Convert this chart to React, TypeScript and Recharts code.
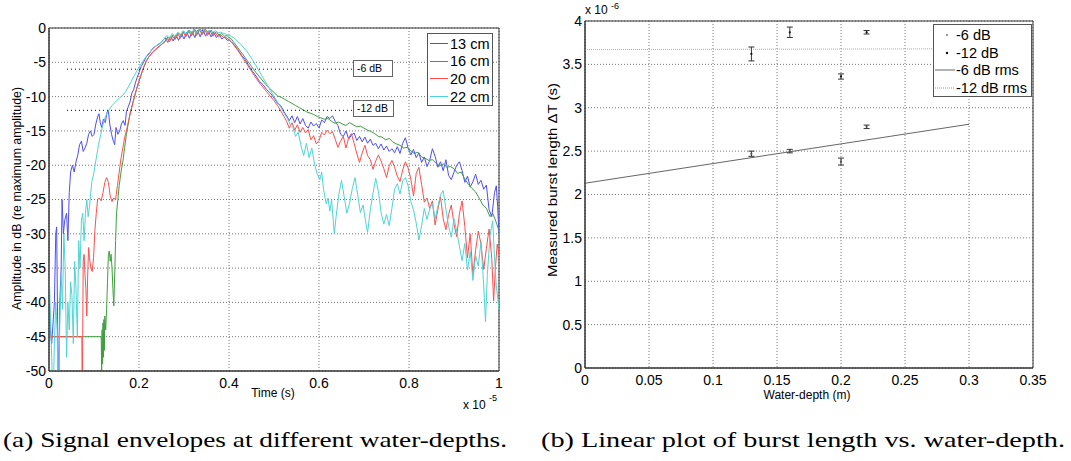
import React from 'react'
import {
  CartesianGrid,
  ComposedChart,
  ErrorBar,
  Legend,
  Line,
  LineChart,
  ReferenceArea,
  ReferenceLine,
  Scatter,
  XAxis,
  YAxis,
} from 'recharts'

// panel (a): time in units of 1e-5 s, amplitude in dB
const timeTicks = [0, 0.2, 0.4, 0.6, 0.8, 1]
const ampTicks = [0, -5, -10, -15, -20, -25, -30, -35, -40, -45, -50]

const env13cm: [number, number][] = [
  [0, -38], [0.003, -44], [0.006, -46], [0.009, -43], [0.012, -40], [0.015, -30], [0.017, -29], [0.019, -42],
  [0.021, -55], [0.024, -40], [0.027, -35], [0.029, -25], [0.032, -30], [0.035, -28], [0.039, -27], [0.042, -31],
  [0.045, -24], [0.048, -21], [0.052, -20], [0.056, -21], [0.06, -19.5], [0.064, -18.5], [0.068, -17], [0.072, -16.5],
  [0.076, -18], [0.08, -17.5], [0.084, -16.8], [0.088, -15.5], [0.092, -15], [0.096, -15.8], [0.1, -15.5], [0.104, -14],
  [0.108, -13], [0.111, -12.5], [0.114, -13.8], [0.117, -14.5], [0.121, -13.3], [0.125, -13.8], [0.129, -12.3], [0.132, -12],
  [0.135, -14], [0.139, -15.5], [0.143, -16.5], [0.146, -17], [0.149, -14.5], [0.153, -15.5], [0.157, -15], [0.161, -14],
  [0.165, -13.5], [0.169, -14.2], [0.172, -12.2], [0.176, -11.5], [0.18, -10.8], [0.184, -9.5], [0.188, -9], [0.192, -8],
  [0.196, -7.2], [0.2, -6.5], [0.205, -5.6], [0.21, -5], [0.216, -4.2], [0.222, -3.8], [0.23, -3], [0.238, -2.6],
  [0.246, -2.3], [0.252, -1.9], [0.258, -1.4], [0.264, -2.1], [0.27, -1.2], [0.276, -1.9], [0.282, -1.0], [0.288, -1.8],
  [0.294, -0.8], [0.3, -1.6], [0.306, -0.6], [0.312, -1.5], [0.318, -0.5], [0.324, -1.4], [0.33, -0.3], [0.336, -1.3],
  [0.342, -0.2], [0.348, -1.2], [0.354, -0.4], [0.36, -1.3], [0.366, -0.6], [0.372, -1.4], [0.378, -0.9], [0.384, -1.6],
  [0.39, -1.3], [0.396, -1.8], [0.4, -1.7], [0.405, -2], [0.412, -2.5], [0.42, -3.2], [0.428, -4], [0.436, -4.6],
  [0.444, -5.5], [0.452, -6.3], [0.46, -7], [0.468, -7.8], [0.476, -8.3], [0.484, -9], [0.492, -9.5], [0.5, -10.2],
  [0.508, -11], [0.515, -11.3], [0.522, -12.2], [0.528, -12.8], [0.534, -13.5], [0.54, -12.8], [0.546, -13.8], [0.552, -12.9],
  [0.558, -14], [0.564, -13.2], [0.57, -14.2], [0.576, -14.6], [0.582, -13.7], [0.588, -14.3], [0.594, -13.9], [0.6, -14.6],
  [0.606, -13.4], [0.612, -13.8], [0.618, -12.9], [0.624, -13.2], [0.63, -12.8], [0.636, -13.6], [0.642, -14.2], [0.648, -15.5],
  [0.654, -15.8], [0.66, -15], [0.666, -16.2], [0.672, -15.6], [0.678, -15.3], [0.684, -16.4], [0.69, -15.8], [0.696, -16.6],
  [0.702, -15.9], [0.708, -16.8], [0.714, -16.2], [0.72, -17.1], [0.726, -16.8], [0.732, -17.6], [0.738, -16.9], [0.744, -17.8],
  [0.75, -17.2], [0.756, -18], [0.762, -17.6], [0.768, -18.2], [0.774, -17.3], [0.78, -18.3], [0.786, -16.8], [0.792, -16],
  [0.798, -17.5], [0.804, -18.5], [0.81, -17.7], [0.816, -18.9], [0.822, -18.2], [0.828, -19.6], [0.834, -18.8], [0.84, -20.2],
  [0.846, -19.3], [0.852, -17.6], [0.858, -18.7], [0.864, -20.3], [0.87, -19.5], [0.876, -20.8], [0.882, -19.2], [0.888, -21.5],
  [0.894, -22.1], [0.9, -21], [0.906, -20], [0.912, -19.5], [0.918, -20.8], [0.924, -22.5], [0.93, -21.6], [0.936, -23.2],
  [0.942, -22.4], [0.948, -21.3], [0.954, -22.8], [0.96, -22.2], [0.966, -23.5], [0.972, -22.9], [0.978, -26.5], [0.984, -27.5],
  [0.99, -24], [0.994, -23], [0.997, -26], [1, -30],
]

const env16cm: [number, number][] = [
  [0, -45], [0.116, -45], [0.117, -50], [0.118, -44], [0.119, -49], [0.12, -43], [0.121, -48], [0.122, -42.5],
  [0.123, -47], [0.124, -42], [0.126, -44], [0.128, -41], [0.13, -37], [0.132, -33], [0.134, -32.5], [0.136, -34],
  [0.138, -33], [0.14, -35], [0.142, -38], [0.144, -40.5], [0.146, -36], [0.148, -31], [0.15, -27], [0.153, -25],
  [0.156, -23], [0.16, -21], [0.164, -19.5], [0.168, -17.5], [0.172, -15.5], [0.176, -14], [0.18, -12.5], [0.185, -11.2],
  [0.19, -10], [0.195, -8.8], [0.2, -7.8], [0.205, -6.8], [0.21, -5.8], [0.216, -4.8], [0.222, -4.2], [0.23, -3.6],
  [0.24, -3], [0.25, -2.4], [0.258, -2], [0.264, -1.3], [0.27, -1.8], [0.276, -1.0], [0.282, -1.5], [0.288, -0.7],
  [0.294, -1.3], [0.3, -0.5], [0.306, -1.1], [0.312, -0.3], [0.318, -1.0], [0.324, -0.2], [0.33, -0.9], [0.336, -0.1],
  [0.342, -0.8], [0.348, -0.2], [0.354, -0.9], [0.36, -0.3], [0.366, -1.0], [0.372, -0.5], [0.378, -1.1], [0.384, -0.8],
  [0.39, -1.2], [0.396, -1.1], [0.4, -1.4], [0.405, -1.6], [0.412, -2.2], [0.42, -2.9], [0.43, -3.8], [0.44, -4.7],
  [0.45, -5.6], [0.46, -6.5], [0.47, -7.3], [0.48, -8.1], [0.49, -8.8], [0.5, -9.4], [0.508, -9.9], [0.516, -10.1],
  [0.524, -10.4], [0.532, -10.7], [0.54, -11], [0.548, -11.3], [0.556, -11.6], [0.564, -11.9], [0.572, -12.2], [0.58, -12.4],
  [0.588, -12.6], [0.596, -12.9], [0.604, -13.1], [0.612, -13.3], [0.62, -13.2], [0.628, -13.6], [0.636, -13.9], [0.644, -13.7],
  [0.652, -14], [0.66, -14.2], [0.668, -13.8], [0.676, -14.1], [0.684, -14.4], [0.692, -14.3], [0.7, -14.6], [0.708, -14.9],
  [0.716, -15.1], [0.724, -15.4], [0.732, -15.8], [0.74, -15.9], [0.748, -16.3], [0.756, -16.1], [0.764, -16.6], [0.772, -16.9],
  [0.78, -17.1], [0.788, -17.5], [0.796, -17.4], [0.804, -17.9], [0.812, -18.3], [0.82, -18.1], [0.828, -18.8], [0.836, -19],
  [0.844, -19.3], [0.852, -19.2], [0.86, -19.7], [0.868, -20.1], [0.876, -19.8], [0.884, -20.3], [0.892, -20.2], [0.9, -20.5],
  [0.908, -21.2], [0.916, -21], [0.924, -22], [0.932, -22.8], [0.94, -23.4], [0.948, -23.9], [0.956, -24.8], [0.964, -25.8],
  [0.972, -26.3], [0.98, -27.5], [0.986, -27], [0.992, -28], [1, -29.5],
]

const env20cm: [number, number][] = [
  [0, -45], [0.073, -45], [0.074, -55], [0.076, -34], [0.078, -33], [0.08, -36], [0.082, -38], [0.084, -42],
  [0.086, -36], [0.088, -32], [0.09, -33.5], [0.093, -35], [0.096, -35.5], [0.099, -33.5], [0.102, -29.5], [0.105, -27],
  [0.108, -25], [0.112, -24.8], [0.116, -25.2], [0.12, -24], [0.124, -22.5], [0.128, -21.8], [0.132, -22.5], [0.136, -24.5],
  [0.14, -25.3], [0.144, -24.8], [0.148, -25], [0.152, -23], [0.156, -21], [0.16, -19], [0.164, -17.5], [0.168, -16],
  [0.172, -15], [0.176, -13.8], [0.18, -12.6], [0.185, -11.3], [0.19, -10], [0.195, -8.8], [0.2, -7.7], [0.205, -6.7],
  [0.21, -5.8], [0.216, -4.9], [0.222, -4.2], [0.23, -3.5], [0.24, -2.9], [0.25, -2.4], [0.256, -2.1], [0.262, -1.5],
  [0.268, -2], [0.274, -1.1], [0.28, -1.7], [0.286, -0.8], [0.292, -1.5], [0.298, -0.5], [0.304, -1.3], [0.31, -0.3],
  [0.316, -1.2], [0.322, -0.2], [0.328, -1.1], [0.334, -0.1], [0.34, -1.0], [0.346, -0.2], [0.352, -1.1], [0.358, -0.4],
  [0.364, -1.2], [0.37, -0.7], [0.376, -1.3], [0.382, -1.0], [0.388, -1.4], [0.394, -1.4], [0.4, -1.7], [0.405, -2],
  [0.412, -2.6], [0.42, -3.3], [0.43, -4.3], [0.44, -5.3], [0.45, -6.3], [0.46, -7.3], [0.47, -8.2], [0.48, -9],
  [0.49, -9.8], [0.5, -10.6], [0.508, -11.3], [0.516, -12.2], [0.522, -12.9], [0.528, -13.6], [0.534, -14.6], [0.54, -13.8],
  [0.546, -14.9], [0.552, -14.1], [0.558, -15.2], [0.564, -14.5], [0.57, -15.3], [0.576, -14.8], [0.582, -16.3], [0.588, -15.7],
  [0.594, -16.9], [0.6, -16.4], [0.606, -15.2], [0.612, -15.6], [0.618, -14.9], [0.624, -15.4], [0.63, -15.1], [0.636, -16.2],
  [0.642, -17.4], [0.648, -16.5], [0.654, -15.8], [0.66, -17.5], [0.666, -16], [0.672, -15.4], [0.678, -16.8], [0.684, -18.3],
  [0.69, -19.6], [0.696, -18.2], [0.702, -17.1], [0.708, -18.6], [0.714, -19.2], [0.72, -20.6], [0.726, -19.4], [0.732, -18.5],
  [0.738, -19.4], [0.744, -20.5], [0.75, -21.8], [0.756, -20.1], [0.762, -19.3], [0.768, -20.3], [0.774, -21.6], [0.78, -22.4],
  [0.786, -20.7], [0.792, -19.5], [0.798, -20.4], [0.804, -22], [0.81, -24.5], [0.816, -21.2], [0.822, -20.3], [0.828, -22.8],
  [0.834, -25.4], [0.84, -24.8], [0.846, -26.3], [0.852, -25.2], [0.858, -28.7], [0.864, -26.5], [0.87, -24.6], [0.876, -27.8],
  [0.882, -29.4], [0.888, -27.2], [0.894, -25.8], [0.9, -28.6], [0.906, -30.4], [0.912, -27.1], [0.918, -25.2], [0.924, -28.9],
  [0.93, -33.5], [0.936, -30], [0.942, -36], [0.948, -32.4], [0.954, -29.6], [0.96, -31.5], [0.966, -35.2], [0.972, -32.1],
  [0.978, -29.3], [0.984, -33.6], [0.988, -39.8], [0.992, -35], [0.996, -31.5], [1, -33],
]

const env22cm: [number, number][] = [
  [0, -34], [0.003, -42], [0.006, -48], [0.009, -55], [0.012, -46], [0.015, -40], [0.018, -44], [0.021, -55],
  [0.024, -43], [0.027, -36], [0.03, -41], [0.033, -30], [0.036, -35], [0.039, -48], [0.042, -40], [0.045, -44],
  [0.048, -37], [0.051, -39], [0.054, -46], [0.057, -34], [0.06, -38], [0.063, -45], [0.066, -31], [0.069, -35],
  [0.072, -28], [0.075, -27], [0.078, -31], [0.081, -27], [0.084, -25], [0.087, -27.5], [0.09, -26], [0.095, -22.5],
  [0.1, -21], [0.105, -19], [0.11, -17], [0.115, -15.5], [0.12, -14], [0.125, -13], [0.13, -12.3], [0.135, -11.8],
  [0.14, -11.3], [0.146, -10.9], [0.152, -10.5], [0.158, -10.1], [0.164, -9.8], [0.17, -9.3], [0.176, -8.6], [0.182, -7.9],
  [0.188, -7.1], [0.194, -6.4], [0.2, -5.7], [0.206, -5.1], [0.212, -4.5], [0.22, -3.8], [0.23, -3.1], [0.24, -2.5],
  [0.25, -2], [0.256, -1.6], [0.262, -1.1], [0.268, -1.5], [0.274, -0.8], [0.28, -1.3], [0.286, -0.6], [0.292, -1.1],
  [0.298, -0.4], [0.304, -0.9], [0.31, -0.3], [0.316, -0.8], [0.322, -0.2], [0.328, -0.7], [0.334, -0.1], [0.34, -0.6],
  [0.346, -0.2], [0.352, -0.7], [0.358, -0.3], [0.364, -0.6], [0.37, -0.4], [0.376, -0.7], [0.382, -0.6], [0.388, -0.8],
  [0.394, -0.9], [0.4, -1.1], [0.405, -1.2], [0.412, -1.5], [0.42, -2], [0.428, -2.5], [0.436, -3.1], [0.444, -3.8],
  [0.452, -4.6], [0.46, -5.5], [0.468, -6.4], [0.476, -7.3], [0.484, -8.2], [0.492, -9.1], [0.5, -10], [0.506, -10.6],
  [0.512, -11.2], [0.518, -11.9], [0.524, -12.6], [0.53, -13.2], [0.536, -14.1], [0.542, -14.5], [0.548, -15.8], [0.554, -15.2],
  [0.56, -17.2], [0.566, -18.6], [0.572, -16.8], [0.578, -18.9], [0.584, -17.5], [0.59, -19.8], [0.596, -21.3], [0.602, -22.1],
  [0.606, -21], [0.61, -23.5], [0.616, -25.6], [0.62, -24.8], [0.624, -26.7], [0.628, -25.1], [0.634, -30], [0.638, -27.5],
  [0.644, -24.3], [0.65, -22.2], [0.656, -24.6], [0.662, -27], [0.668, -25.5], [0.674, -23.4], [0.68, -21.8], [0.686, -24.3],
  [0.692, -26.9], [0.698, -25.8], [0.704, -28.4], [0.708, -29.8], [0.714, -26.5], [0.72, -24.1], [0.726, -21.9], [0.732, -23.8],
  [0.738, -26.9], [0.744, -28.6], [0.75, -27.2], [0.756, -28.8], [0.762, -26.3], [0.768, -23.5], [0.774, -22.7], [0.78, -24.2],
  [0.786, -22.3], [0.792, -21.8], [0.798, -23], [0.804, -25.3], [0.81, -26.5], [0.816, -28.4], [0.822, -30.9], [0.828, -28.8],
  [0.834, -26.3], [0.84, -27.9], [0.846, -26.4], [0.852, -25.5], [0.858, -27.8], [0.864, -26.1], [0.87, -24.3], [0.876, -23.7],
  [0.882, -26.4], [0.888, -28.9], [0.894, -30.5], [0.9, -27.8], [0.906, -29.6], [0.912, -31.8], [0.918, -33.9], [0.924, -31.4],
  [0.93, -35.3], [0.936, -32.6], [0.942, -36.8], [0.948, -33.2], [0.954, -34.7], [0.96, -31.2], [0.966, -37.5], [0.97, -42.8],
  [0.974, -36.1], [0.98, -30.2], [0.986, -28.1], [0.99, -33.4], [0.994, -37.6], [1, -41],
]

const envNames = ['13 cm', '16 cm', '20 cm', '22 cm']
const envColors = ['#4d4dff', '#3f9f3f', '#ff4d4d', '#4fd4d4']
const envData = [env13cm, env16cm, env20cm, env22cm]

// panel (b): depth in m, burst length in units of 1e-6 s
const depthTicks = [0, 0.05, 0.1, 0.15, 0.2, 0.25, 0.3, 0.35]
const burstTicks = [0, 0.5, 1, 1.5, 2, 2.5, 3, 3.5, 4]
const depths = [0.13, 0.16, 0.2, 0.22]
const burst6dB = [2.47, 2.5, 2.38, 2.78]
const burst6dBErr = [0.03, 0.02, 0.04, 0.02]
const burst12dB = [3.62, 3.87, 3.36, 3.87]
const burst12dBErr = [0.08, 0.06, 0.03, 0.02]
const rmsDepths = [0, 0.3]
const rms6dB = [2.13, 2.81]
const rms12dB = [3.67, 3.68]

const sans = 'Arial, "Liberation Sans", Helvetica, sans-serif'
const serif = '"Times New Roman", "Liberation Serif", Times, serif'
const tickStyle = { fontSize: 14, fontFamily: sans, fill: '#000' }

const pts = (a: [number, number][]) => a.map(([x, y]) => ({ x, y }))

function EnvLegend() {
  return (
    <div style={{ width: 66, height: 73, border: '1px solid #555', background: '#fff', boxSizing: 'border-box', fontFamily: sans, fontSize: 14.5 }}>
      {envNames.map((n, i) => (
        <div key={n} style={{ display: 'flex', alignItems: 'center', height: 17.6, marginTop: i === 0 ? 1 : 0 }}>
          <div style={{ width: 18, height: 1, background: envColors[i], marginLeft: 2, marginRight: 2 }} />
          <span>{n}</span>
        </div>
      ))}
    </div>
  )
}

function BurstLegend() {
  const rows = [
    { label: '-6 dB', kind: 'dot', color: '#999' },
    { label: '-12 dB', kind: 'dot', color: '#111' },
    { label: '-6 dB rms', kind: 'line', color: '#666' },
    { label: '-12 dB rms', kind: 'dotted', color: '#999' },
  ]
  return (
    <div style={{ width: 99, height: 73, border: '1px solid #555', background: '#fff', boxSizing: 'border-box', fontFamily: sans, fontSize: 14.5 }}>
      {rows.map((r, i) => (
        <div key={r.label} style={{ display: 'flex', alignItems: 'center', height: 17.8, marginTop: i === 0 ? 1 : 0 }}>
          <svg width={22} height={10} style={{ flex: 'none' }}>
            {r.kind === 'dot' ? (
              <circle cx={13} cy={5} r={1.2} fill={r.color} />
            ) : (
              <line x1={1} x2={21} y1={5} y2={5} stroke={r.color} strokeDasharray={r.kind === 'dotted' ? '1 1' : undefined} />
            )}
          </svg>
          <span>{r.label}</span>
        </div>
      ))}
    </div>
  )
}

function EnvelopeChart() {
  return (
    <LineChart width={520} height={400} margin={{ top: 28, right: 21, bottom: 0, left: 9 }}>
      <CartesianGrid stroke="#777" strokeDasharray="1 2" />
      <XAxis
        type="number"
        dataKey="x"
        domain={[0, 1]}
        ticks={timeTicks}
        height={29}
        tickLine={false}
        axisLine={{ stroke: '#333' }}
        tick={tickStyle}
        tickMargin={1}
        allowDataOverflow
      />
      <YAxis
        type="number"
        dataKey="y"
        domain={[-50, 0]}
        ticks={ampTicks}
        width={40}
        tickLine={false}
        axisLine={{ stroke: '#333' }}
        tick={tickStyle}
        tickSize={3}
        tickMargin={0}
        allowDataOverflow
      />
      {envData.map((d, i) => (
        <Line
          key={envNames[i]}
          data={pts(d)}
          dataKey="y"
          name={envNames[i]}
          type="linear"
          stroke={envColors[i]}
          strokeWidth={1}
          dot={false}
          isAnimationActive={false}
        />
      ))}
      <ReferenceLine segment={[{ x: 0.04, y: -6 }, { x: 0.675, y: -6 }]} stroke="#000" strokeDasharray="1 3" />
      <ReferenceLine segment={[{ x: 0.04, y: -12 }, { x: 0.675, y: -12 }]} stroke="#000" strokeDasharray="1 3" />
      <ReferenceArea x1={0} x2={1} y1={-50} y2={0} fill="none" stroke="#333" strokeWidth={1} />
      <Legend
        layout="vertical"
        align="center"
        verticalAlign="middle"
        content={() => <EnvLegend />}
        wrapperStyle={{ position: 'absolute', left: 427, top: 33, width: 66, height: 73 }}
      />
    </LineChart>
  )
}

function BurstChart() {
  const d6 = depths.map((x, i) => ({ x, y: burst6dB[i], err: burst6dBErr[i] }))
  const d12 = depths.map((x, i) => ({ x, y: burst12dB[i], err: burst12dBErr[i] }))
  const r6 = rmsDepths.map((x, i) => ({ x, y: rms6dB[i] }))
  const r12 = rmsDepths.map((x, i) => ({ x, y: rms12dB[i] }))
  const dotShape = (color: string) => (p: any) => <circle cx={p.cx} cy={p.cy} r={1.1} fill={color} />
  return (
    <ComposedChart width={531} height={400} margin={{ top: 21, right: 38, bottom: 0, left: 0 }}>
      <CartesianGrid stroke="#777" strokeDasharray="1 2" />
      <XAxis
        type="number"
        dataKey="x"
        domain={[0, 0.35]}
        ticks={depthTicks}
        height={32}
        tickLine={false}
        axisLine={{ stroke: '#333' }}
        tick={tickStyle}
        tickMargin={1}
      />
      <YAxis
        type="number"
        dataKey="y"
        domain={[0, 4]}
        ticks={burstTicks}
        width={45}
        tickLine={false}
        axisLine={{ stroke: '#333' }}
        tick={tickStyle}
        tickSize={3}
        tickMargin={0}
      />
      <Line data={r6} dataKey="y" name="-6 dB rms" stroke="#666" strokeWidth={1} dot={false} isAnimationActive={false} />
      <Line data={r12} dataKey="y" name="-12 dB rms" stroke="#aaa" strokeWidth={1} strokeDasharray="1 1" dot={false} isAnimationActive={false} />
      <Scatter data={d6} dataKey="y" name="-6 dB" shape={dotShape('#555')} isAnimationActive={false}>
        <ErrorBar dataKey="err" direction="y" width={3} stroke="#333" strokeWidth={1} />
      </Scatter>
      <Scatter data={d12} dataKey="y" name="-12 dB" shape={dotShape('#111')} isAnimationActive={false}>
        <ErrorBar dataKey="err" direction="y" width={3} stroke="#333" strokeWidth={1} />
      </Scatter>
      <ReferenceArea x1={0} x2={0.35} y1={0} y2={4} fill="none" stroke="#333" strokeWidth={1} />
      <Legend
        layout="vertical"
        align="center"
        verticalAlign="middle"
        content={() => <BurstLegend />}
        wrapperStyle={{ position: 'absolute', left: 393, top: 24, width: 99, height: 73 }}
      />
    </ComposedChart>
  )
}

const boxStyle: React.CSSProperties = {
  position: 'absolute',
  border: '1px solid #666',
  background: '#fff',
  fontFamily: sans,
  fontSize: 10.5,
  lineHeight: '15px',
  paddingLeft: 3,
  boxSizing: 'border-box',
}

export default function App() {
  return (
    <div style={{ position: 'absolute', left: 0, top: 0, width: 1071, height: 461, background: '#fff', overflow: 'hidden' }}>
      <div style={{ position: 'absolute', left: 0, top: 0 }}>
        <EnvelopeChart />
      </div>
      <div style={{ position: 'absolute', left: 540, top: 0 }}>
        <BurstChart />
      </div>
      <div style={{ ...boxStyle, left: 353, top: 60, width: 40, height: 17 }}>-6 dB</div>
      <div style={{ ...boxStyle, left: 353, top: 100, width: 41, height: 17 }}>-12 dB</div>
      <svg width={1071} height={461} style={{ position: 'absolute', left: 0, top: 0, pointerEvents: 'none' }}>
        <g fontFamily={sans} fill="#000">
          <text x={17} y={198.5} fontSize={12} textAnchor="middle" transform="rotate(-90 17 198.5)" dy={4} textLength={223} lengthAdjust="spacingAndGlyphs">
            Amplitude in dB (re maximum amplitude)
          </text>
          <text x={273} y={397} fontSize={12} textAnchor="middle">Time (s)</text>
          <text x={463} y={409} fontSize={12}>x 10</text>
          <text x={489} y={401} fontSize={9}>-5</text>
          <text x={553} y={180} fontSize={12} textAnchor="middle" transform="rotate(-90 553 180)" dy={4} textLength={194} lengthAdjust="spacingAndGlyphs">
            Measured burst length  ΔT (s)
          </text>
          <text x={807} y={399} fontSize={12} textAnchor="middle">Water-depth (m)</text>
          <text x={585} y={14} fontSize={12}>x 10</text>
          <text x={611} y={9} fontSize={9}>-6</text>
        </g>
        <g fontFamily={serif} fill="#000" fontSize={21}>
          <text x={3} y={447} textLength={504} lengthAdjust="spacingAndGlyphs">(a) Signal envelopes at different water-depths.</text>
          <text x={541} y={447} textLength={524} lengthAdjust="spacingAndGlyphs">(b) Linear plot of burst length vs. water-depth.</text>
        </g>
      </svg>
    </div>
  )
}
